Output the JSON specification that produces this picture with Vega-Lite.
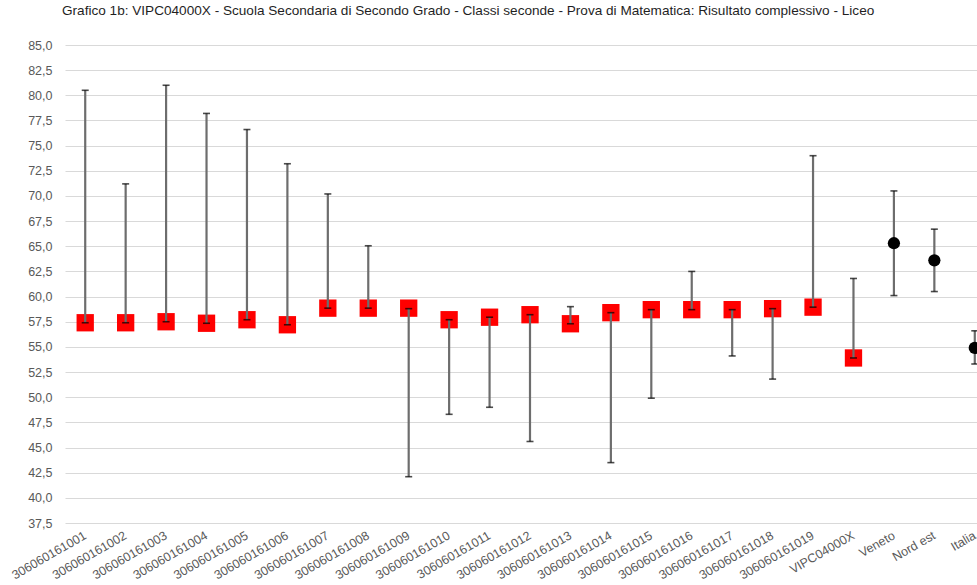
{
  "$schema": "https://vega.github.io/schema/vega-lite/v6.json",
  "autosize": {"type": "none"},
  "padding": {"left": 64, "top": 45, "right": 0, "bottom": 62},
  "width": 913,
  "height": 478,
  "background": "white",
  "config": {"view": {"stroke": null}, "font": "Liberation Sans"},
  "title": {
    "text": "Grafico 1b: VIPC04000X - Scuola Secondaria di Secondo Grado - Classi seconde - Prova di Matematica: Risultato complessivo - Liceo",
    "anchor": "start",
    "frame": "group",
    "offset": 21,
    "dx": -2,
    "fontSize": 13.6,
    "font": "Liberation Sans",
    "fontWeight": "normal",
    "color": "#1f1f1f"
  },
  "data": {
    "values": [
      {"cat": "306060161001", "tipo": "scuola", "p": 57.4, "lo": 57.4, "hi": 80.5},
      {"cat": "306060161002", "tipo": "scuola", "p": 57.4, "lo": 57.4, "hi": 71.2},
      {"cat": "306060161003", "tipo": "scuola", "p": 57.5, "lo": 57.5, "hi": 81.0},
      {"cat": "306060161004", "tipo": "scuola", "p": 57.35, "lo": 57.35, "hi": 78.2},
      {"cat": "306060161005", "tipo": "scuola", "p": 57.7, "lo": 57.7, "hi": 76.6},
      {"cat": "306060161006", "tipo": "scuola", "p": 57.2, "lo": 57.2, "hi": 73.2},
      {"cat": "306060161007", "tipo": "scuola", "p": 58.85, "lo": 58.85, "hi": 70.2},
      {"cat": "306060161008", "tipo": "scuola", "p": 58.85, "lo": 58.85, "hi": 65.05},
      {"cat": "306060161009", "tipo": "scuola", "p": 58.85, "lo": 42.1, "hi": 58.8},
      {"cat": "306060161010", "tipo": "scuola", "p": 57.7, "lo": 48.3, "hi": 57.7},
      {"cat": "306060161011", "tipo": "scuola", "p": 57.95, "lo": 49.0, "hi": 57.95},
      {"cat": "306060161012", "tipo": "scuola", "p": 58.2, "lo": 45.6, "hi": 58.2},
      {"cat": "306060161013", "tipo": "scuola", "p": 57.3, "lo": 57.3, "hi": 59.0},
      {"cat": "306060161014", "tipo": "scuola", "p": 58.4, "lo": 43.5, "hi": 58.4},
      {"cat": "306060161015", "tipo": "scuola", "p": 58.7, "lo": 49.9, "hi": 58.7},
      {"cat": "306060161016", "tipo": "scuola", "p": 58.7, "lo": 58.7, "hi": 62.5},
      {"cat": "306060161017", "tipo": "scuola", "p": 58.7, "lo": 54.1, "hi": 58.7},
      {"cat": "306060161018", "tipo": "scuola", "p": 58.8, "lo": 51.8, "hi": 58.8},
      {"cat": "306060161019", "tipo": "scuola", "p": 58.95, "lo": 58.95, "hi": 74.0},
      {"cat": "VIPC04000X", "tipo": "scuola", "p": 53.9, "lo": 53.9, "hi": 61.8},
      {"cat": "Veneto", "tipo": "riferimento", "p": 65.3, "lo": 60.1, "hi": 70.5},
      {"cat": "Nord est", "tipo": "riferimento", "p": 63.6, "lo": 60.5, "hi": 66.7},
      {"cat": "Italia", "tipo": "riferimento", "p": 54.9, "lo": 53.3, "hi": 56.6}
    ]
  },
  "encoding": {
    "x": {
      "field": "cat",
      "type": "nominal",
      "sort": null,
      "scale": {"range": [1, 931], "paddingInner": 0, "paddingOuter": 0},
      "axis": {
        "title": null,
        "domain": false,
        "ticks": false,
        "labelAngle": -30,
        "labelAlign": "right",
        "labelBaseline": "middle",
        "labelPadding": 11,
        "labelFontSize": 12.5,
        "labelColor": "#595959",
        "labelFont": "Liberation Sans",
        "labelOverlap": false
      }
    }
  },
  "layer": [
    {
      "transform": [{"filter": "datum.tipo === 'scuola'"}],
      "mark": {"type": "square", "color": "#ff0000", "opacity": 1, "size": 300},
      "encoding": {
        "y": {
          "field": "p",
          "type": "quantitative",
          "scale": {"domain": [37.5, 85], "nice": false, "zero": false},
          "axis": {
            "title": null,
            "values": [37.5, 40, 42.5, 45, 47.5, 50, 52.5, 55, 57.5, 60, 62.5, 65, 67.5, 70, 72.5, 75, 77.5, 80, 82.5, 85],
            "tickCount": 40,
            "labelExpr": "replace(format(datum.value, '.1f'), '.', ',')",
            "labelOverlap": false,
            "labelFlush": false,
            "domain": false,
            "ticks": false,
            "gridColor": "#d9d9d9",
            "gridWidth": 1.2,
            "labelPadding": 12,
            "labelFontSize": 12.5,
            "labelColor": "#595959",
            "labelFont": "Liberation Sans"
          }
        }
      }
    },
    {
      "mark": {"type": "rule", "color": "#6d6d6d", "strokeWidth": 2.2},
      "encoding": {
        "y": {"field": "lo", "type": "quantitative"},
        "y2": {"field": "hi"}
      }
    },
    {
      "mark": {"type": "tick", "color": "#000000", "size": 7, "thickness": 1.6, "orient": "horizontal"},
      "encoding": {"y": {"field": "lo", "type": "quantitative"}}
    },
    {
      "mark": {"type": "tick", "color": "#000000", "size": 7, "thickness": 1.6, "orient": "horizontal"},
      "encoding": {"y": {"field": "hi", "type": "quantitative"}}
    },
    {
      "transform": [{"filter": "datum.tipo === 'riferimento'"}],
      "mark": {"type": "circle", "color": "#000000", "opacity": 1, "size": 150},
      "encoding": {"y": {"field": "p", "type": "quantitative"}}
    }
  ]
}
